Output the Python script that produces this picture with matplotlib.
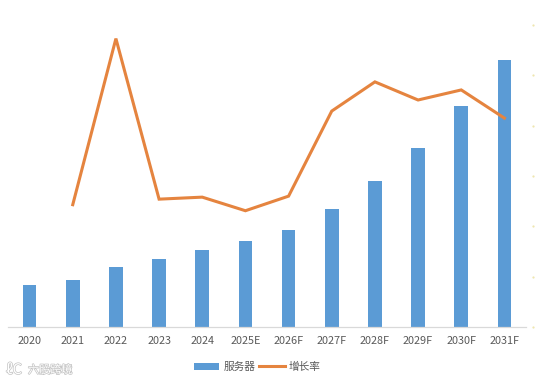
import matplotlib
matplotlib.use("Agg")
import matplotlib.pyplot as plt
import matplotlib.patheffects as pe
import numpy as np

plt.rcParams["font.family"] = ["Noto Sans CJK SC", "DejaVu Sans"]

W, H = 535, 382

years = ["2020", "2021", "2022", "2023", "2024", "2025E", "2026F",
         "2027F", "2028F", "2029F", "2030F", "2031F"]
servers = [42, 47.5, 60, 68, 77, 86, 97, 118, 146, 179, 221, 267]
growth = [np.nan, 24.3, 57.3, 25.4, 25.8, 23.1, 26.0, 42.9, 48.7, 45.1, 47.1, 41.5]
growth_ticks = [0, 10, 20, 30, 40, 50, 60]

BLUE = "#5B9BD5"
ORANGE = "#E5843F"
GREY = "#595959"

fig = plt.figure(figsize=(W / 100, H / 100), dpi=100)
ax = fig.add_axes([8 / W, 1 - 327 / H, 518 / W, 302 / H])
x = np.arange(len(years))

bars = ax.bar(x, servers, width=0.315, color=BLUE, label="服务器")
ax.set_xlim(-0.5, 11.5)
ax.set_ylim(0, 302)
ax.set_xticks(x, years)
ax.set_yticks([])
ax.tick_params(axis="x", length=0, pad=6.5, labelsize=7.8, labelcolor=GREY)
for side in ("top", "left", "right"):
    ax.spines[side].set_visible(False)
ax.spines["bottom"].set_color("#D9D9D9")
ax.spines["bottom"].set_linewidth(0.9)

# line sits on its own hidden scale, only faint remains of the ticks are left
ax2 = ax.twinx()
line, = ax2.plot(x, growth, color=ORANGE, lw=2.2, label="增长率", solid_joinstyle="miter")
ax2.set_ylim(0, 60)
ax2.set_yticks([])
for side in ("top", "left", "right", "bottom"):
    ax2.spines[side].set_visible(False)
ax2.plot([1.0135] * len(growth_ticks), growth_ticks, ls="none", marker="o", ms=1.6,
         mew=0, color="#EFE6B0", clip_on=False, transform=ax2.get_yaxis_transform())

fig.legend([bars, line], ["服务器", "增长率"], loc="center", ncol=2, frameon=False,
           bbox_to_anchor=(257 / W, 1 - 367 / H), fontsize=7.7, labelcolor=GREY,
           handlelength=2.4, handletextpad=0.37, columnspacing=0.37)

# watermark
halo = [pe.withStroke(linewidth=1.0, foreground="#C4C4C4")]
fig.text(6 / W, 1 - 370 / H, "ℓC", color="white", fontsize=10.5, va="center", path_effects=halo)
fig.text(28 / W, 1 - 370 / H, "六股跨境", color="white", fontsize=8, va="center", path_effects=halo)

fig.savefig("out.png", dpi=100)
plt.close(fig)
